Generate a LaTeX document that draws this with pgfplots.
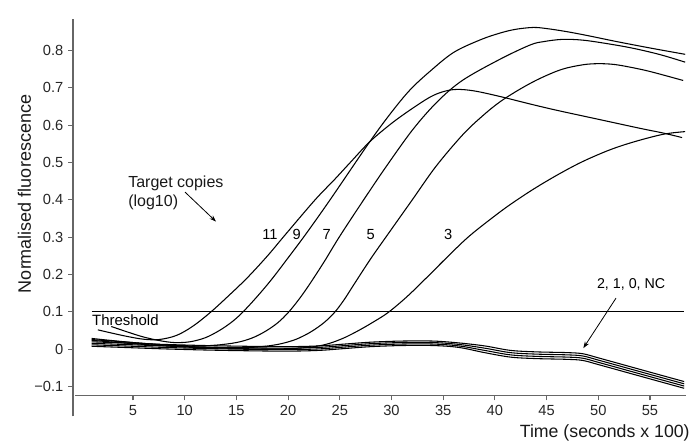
\documentclass[border=0pt]{standalone}
\usepackage{fontspec}
\setmainfont{Liberation Sans}
\usepackage{pgfplots}
\pgfplotsset{compat=1.18}
\usetikzlibrary{arrows.meta}
\tikzset{crv/.style={black, line width=0.8pt, smooth, tension=0.55, mark=none}}
\begin{document}
\begin{tikzpicture}
\path[use as bounding box] (0,0) rectangle (519.75pt,332.25pt);
% x axis (separate line)
\begin{axis}[
  at={(56.33pt,35.48pt)}, anchor=south west, scale only axis,
  width=458.3pt, height=20pt,
  xmin=-0.6, xmax=58.5, ymin=0, ymax=1,
  axis x line=bottom, axis y line=none, ytick=\empty,
  x axis line style={-, black!60, line width=1pt},
  xtick={5,10,15,20,25,30,35,40,45,50,55},
  xticklabels={5,10,15,20,25,30,35,40,45,50,55},
  tick align=outside, major tick length=3.5pt,
  tick style={black!60, line width=0.8pt},
  xticklabel style={font=\fontsize{11}{13}\selectfont, text=black!85},
  /pgf/number format/assume math mode=true,
]
\end{axis}
\begin{axis}[
  at={(54.77pt,19.9pt)}, anchor=south west, scale only axis,
  width=459.9pt, height=298.2pt,
  xmin=-0.8, xmax=58.5, ymin=-0.18, ymax=0.885,
  axis y line=left, axis x line=none, xtick=\empty,
  y axis line style={-, black!60, line width=1pt},
  ytick={-0.1,0,0.1,0.2,0.3,0.4,0.5,0.6,0.7,0.8},
  yticklabels={−0.1,0,0.1,0.2,0.3,0.4,0.5,0.6,0.7,0.8},
  tick align=outside, major tick length=3.75pt,
  tick style={black!60, line width=0.8pt},
  yticklabel style={font=\fontsize{11}{13}\selectfont, text=black!85},
  /pgf/number format/assume math mode=true,
  clip=false,
]
% threshold
\addplot[black, line width=0.8pt, mark=none] coordinates {(1.0,0.1) (58.3,0.1)};
% flat curves 2, 1, 0, NC
\addplot[crv] coordinates {(1,0.020) (4,0.017) (8,0.013) (12,0.010) (16,0.008) (20,0.007) (23,0.009) (25.5,0.014) (28,0.019) (31,0.022) (34,0.022) (36.5,0.017) (39,0.009) (41.5,-0.003) (44,-0.007) (47,-0.009) (48.5,-0.012) (50,-0.023) (53,-0.046) (56,-0.069) (58.3,-0.0865)};
\addplot[crv] coordinates {(1,0.016) (4,0.013) (8,0.009) (12,0.006) (16,0.004) (20,0.003) (23,0.005) (25.5,0.010) (28,0.015) (31,0.018) (34,0.018) (36.5,0.013) (39,0.003) (41.5,-0.009) (44,-0.013) (47,-0.015) (48.5,-0.018) (50,-0.029) (53,-0.052) (56,-0.075) (58.3,-0.0925)};
\addplot[crv] coordinates {(1,0.012) (4,0.009) (8,0.005) (12,0.002) (16,0.000) (20,-0.001) (23,0.001) (25.5,0.006) (28,0.011) (31,0.014) (34,0.014) (36.5,0.009) (39,-0.003) (41.5,-0.015) (44,-0.019) (47,-0.021) (48.5,-0.024) (50,-0.035) (53,-0.058) (56,-0.081) (58.3,-0.0985)};
\addplot[crv] coordinates {(1,0.008) (4,0.005) (8,0.001) (12,-0.002) (16,-0.004) (20,-0.005) (23,-0.003) (25.5,0.002) (28,0.007) (31,0.010) (34,0.010) (36.5,0.005) (39,-0.009) (41.5,-0.021) (44,-0.025) (47,-0.027) (48.5,-0.030) (50,-0.041) (53,-0.064) (56,-0.087) (58.3,-0.1045)};
% curve 11
\addplot[crv] coordinates {(1.6,0.052) (3,0.043) (4.5,0.034) (6,0.027) (7.5,0.026) (9.2,0.037) (10.8,0.062) (12.45,0.098) (14,0.137) (16,0.19) (18,0.25) (19.7,0.306) (22.6,0.40) (24.5,0.455) (26,0.5) (27.9,0.556) (30,0.605) (31.8,0.641) (33.7,0.675) (35,0.690) (36.3,0.696) (38,0.692) (40.5,0.677) (43.4,0.657) (46,0.64) (50,0.616) (54,0.592) (56.3,0.579) (58.1,0.567)};
% curve 9
\addplot[crv] coordinates {(2.9,0.061) (4.5,0.046) (6,0.033) (7.6,0.023) (9,0.018) (10.5,0.02) (12,0.031) (13.4,0.051) (14.6,0.074) (15.6,0.099) (17,0.141) (18.4,0.187) (20,0.245) (21.7,0.308) (24.05,0.40) (27.9,0.556) (30,0.635) (31.8,0.695) (33.7,0.744) (36,0.795) (38.6,0.829) (40.5,0.847) (42,0.857) (43.7,0.862) (45,0.859) (46.9,0.851) (49,0.84) (51.8,0.824) (55,0.807) (58.4,0.79)};
% curve 7
\addplot[crv] coordinates {(1,0.026) (4,0.020) (8,0.012) (11,0.009) (13,0.011) (15,0.018) (16.5,0.030) (17.8,0.048) (19,0.071) (20,0.098) (21,0.132) (22,0.171) (23.5,0.235) (25,0.303) (27.3,0.40) (29.5,0.49) (32.1,0.59) (34.5,0.665) (36.9,0.721) (40.5,0.777) (43.4,0.815) (44.7,0.824) (46.5,0.83) (48.5,0.828) (51,0.818) (53.4,0.806) (56,0.789) (58.4,0.769)};
% curve 5
\addplot[crv] coordinates {(1,0.024) (5,0.015) (10,0.006) (14,0.003) (17,0.006) (19,0.013) (20.5,0.024) (21.5,0.036) (22.4,0.050) (23.5,0.072) (24.5,0.099) (25.4,0.132) (26.4,0.175) (28,0.243) (29.7,0.31) (32,0.40) (34.3,0.49) (36.9,0.575) (38.8,0.625) (40.5,0.663) (42.5,0.698) (44.4,0.726) (46.5,0.75) (48.5,0.762) (50,0.765) (51.5,0.763) (53,0.756) (55,0.744) (58.2,0.72)};
% curve 3
\addplot[crv] coordinates {(1,0.029) (5,0.018) (10,0.008) (15,0.002) (19,0.001) (21.5,0.004) (23.5,0.012) (25.2,0.028) (26.8,0.050) (28.3,0.074) (29.7,0.099) (31.5,0.141) (33.4,0.192) (35.5,0.25) (37.6,0.305) (40.5,0.368) (42.4,0.405) (44.2,0.437) (46.3,0.471) (48.5,0.503) (51.1,0.534) (53.5,0.556) (56.3,0.576) (58.4,0.583)};
% annotations
\node[anchor=north west, align=left, inner sep=0pt, font=\fontsize{12}{14.4}\selectfont, text=black!90] at (axis cs:4.52,0.465) {Target copies\\(log10)};
\draw[black, line width=0.6pt, -{Stealth[length=5pt,width=3.5pt]}] (axis cs:10.03,0.421) -- (axis cs:13.03,0.342);
\node[inner sep=0pt, font=\fontsize{11}{13}\selectfont] at (axis cs:18.25,0.308) {11};
\node[inner sep=0pt, font=\fontsize{11}{13}\selectfont] at (axis cs:20.83,0.308) {9};
\node[inner sep=0pt, font=\fontsize{11}{13}\selectfont] at (axis cs:23.73,0.308) {7};
\node[inner sep=0pt, font=\fontsize{11}{13}\selectfont] at (axis cs:27.99,0.308) {5};
\node[inner sep=0pt, font=\fontsize{11}{13}\selectfont] at (axis cs:35.49,0.308) {3};
\node[anchor=base west, inner sep=0pt, font=\fontsize{11.2}{13}\selectfont] at (axis cs:1.03,0.063) {Threshold};
\node[anchor=base west, inner sep=0pt, font=\fontsize{10.7}{13}\selectfont] at (axis cs:49.85,0.163) {2, 1, 0, NC};
\draw[black, line width=0.6pt, -{Stealth[length=5pt,width=3.5pt]}] (axis cs:51.71,0.137) -- (axis cs:48.55,0.003);
\node[rotate=90, inner sep=0pt, font=\fontsize{13.5}{15}\selectfont, text=black!90] at (axis cs:-5.49,0.416) {Normalised fluorescence};
\node[anchor=base east, inner sep=0pt, font=\fontsize{13.3}{15}\selectfont, text=black!90] at (axis cs:58.86,-0.236) {Time (seconds x 100)};
\end{axis}
\end{tikzpicture}
\end{document}
